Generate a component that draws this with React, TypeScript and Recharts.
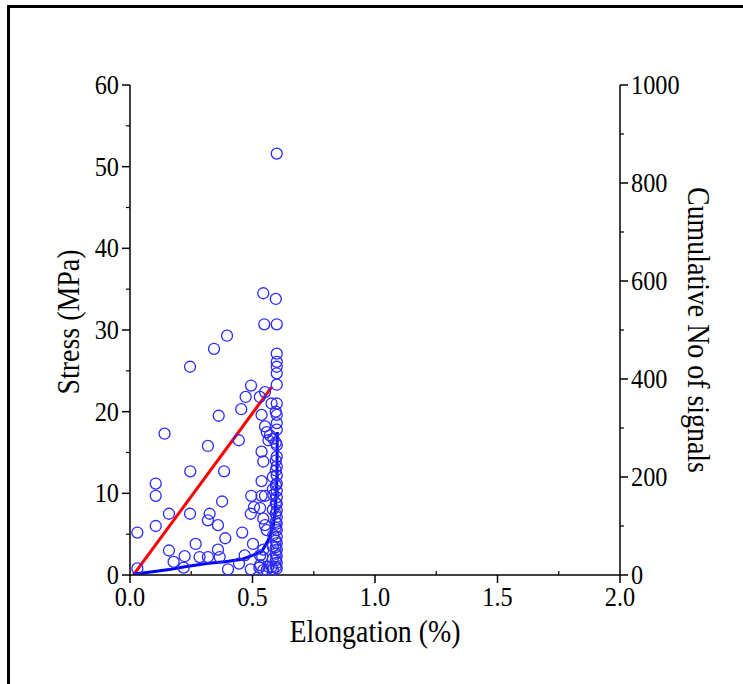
import React from "react";
import { ComposedChart, Label, Line, Scatter, XAxis, YAxis } from "recharts";

// acoustic emission hits: [elongation %, stress MPa]
const spreadHits: [number, number][] = [
  [0.03, 5.2], [0.03, 0.8], [0.105, 11.2], [0.105, 9.7], [0.105, 6.0],
  [0.141, 17.3], [0.159, 7.5], [0.159, 3.0], [0.178, 1.6], [0.219, 0.9],
  [0.223, 2.3], [0.245, 25.5], [0.246, 12.7], [0.245, 7.5], [0.268, 3.8],
  [0.284, 2.2], [0.318, 15.8], [0.318, 6.7], [0.318, 2.2], [0.325, 7.5],
  [0.343, 27.7], [0.359, 6.1], [0.359, 3.1], [0.362, 19.5], [0.366, 2.2],
  [0.376, 9.0], [0.384, 12.7], [0.389, 4.5], [0.396, 29.3], [0.4, 0.7],
  [0.444, 16.5], [0.445, 1.4], [0.454, 20.3], [0.458, 5.2], [0.468, 2.4],
  [0.472, 21.8], [0.493, 7.5], [0.493, 0.7], [0.494, 23.2], [0.495, 9.7],
  [0.502, 3.8], [0.506, 8.3],
];

const nearBreakHits: [number, number][] = [
  [0.531, 8.2], [0.53, 21.8], [0.537, 19.6], [0.537, 11.5], [0.537, 9.7],
  [0.537, 15.1], [0.544, 13.9], [0.544, 6.9], [0.551, 6.1], [0.558, 5.5],
  [0.544, 34.5], [0.548, 30.7], [0.551, 22.4], [0.551, 18.2], [0.558, 17.5],
  [0.565, 16.5], [0.571, 17.1], [0.585, 16.7], [0.578, 21.0], [0.551, 9.7],
  [0.585, 9.8], [0.585, 4.9], [0.544, 3.1], [0.531, 2.4], [0.54, 2.2],
  [0.531, 1.2], [0.528, 0.9], [0.544, 0.6], [0.558, 0.6], [0.565, 1.0],
  [0.578, 1.0],
];

const columnHits: [number, number][] = [
  [0.599, 51.6], [0.599, 30.7], [0.599, 27.1], [0.599, 26.1], [0.599, 25.5],
  [0.599, 24.7], [0.599, 23.3], [0.599, 21.0], [0.599, 19.6], [0.599, 18.6],
  [0.599, 17.8], [0.599, 15.9], [0.599, 14.5], [0.599, 13.3], [0.599, 12.2],
  [0.599, 11.2], [0.599, 10.3], [0.599, 9.5], [0.599, 8.7], [0.599, 7.9],
  [0.599, 7.1], [0.599, 6.3], [0.599, 5.5], [0.599, 4.7], [0.599, 3.9],
  [0.599, 3.1], [0.599, 2.3], [0.599, 1.5], [0.599, 0.8],
  [0.595, 33.8], [0.595, 20.0], [0.595, 16.2], [0.595, 14.0], [0.595, 12.8],
  [0.595, 11.0], [0.595, 8.8], [0.595, 7.5], [0.595, 6.5], [0.595, 5.8],
  [0.595, 4.2], [0.595, 3.4], [0.595, 2.6], [0.595, 1.8], [0.595, 1.0],
  [0.583, 12.0], [0.583, 10.5], [0.583, 8.0], [0.583, 3.5], [0.583, 2.0],
  [0.583, 0.7],
];

// linear stress-elongation fit (red)
const fitElongation = [0.014, 0.578];
const fitStress = [0, 23.0];

// cumulative number of signals (blue, right axis)
const cumElongation = [0.015, 0.02, 0.1, 0.16, 0.224, 0.32, 0.388, 0.456, 0.5, 0.538, 0.564, 0.585, 0.592, 0.6, 0.601];
const cumSignals = [0, 2, 7, 11, 17, 24, 27, 32, 40, 48, 71, 99, 127, 194, 292];

const xTicks = [0, 0.25, 0.5, 0.75, 1, 1.25, 1.5, 1.75, 2];
const stressTicks = [0, 5, 10, 15, 20, 25, 30, 35, 40, 45, 50, 55, 60];
const signalTicks = [0, 100, 200, 300, 400, 500, 600, 700, 800, 900, 1000];

const FONT = "'Liberation Serif', 'Times New Roman', serif";
const TICK_FONT = 27;
const TITLE_FONT = 31;
const SQUEEZE = 0.9; // the original lettering is a bit condensed
const CIRCLE = "#2b2bff";

const hits = [...spreadHits, ...nearBreakHits, ...columnHits].map(([e, s]) => ({ e, s }));
const fitLine = fitElongation.map((e, i) => ({ e, s: fitStress[i] }));
const cumLine = cumElongation.map((e, i) => ({ e, c: cumSignals[i] }));

function isMajor(v: number, step: number) {
  return Math.abs(v / step - Math.round(v / step)) < 1e-6;
}

function SerifText({ x, y, anchor, size, rotate = 0, children }: any) {
  return (
    <text
      transform={`translate(${x} ${y}) rotate(${rotate}) scale(${SQUEEZE} 1)`}
      textAnchor={anchor}
      fontFamily={FONT}
      fontSize={size}
      fill="#000"
    >
      {children}
    </text>
  );
}

function BottomTick(props: any) {
  const { x, y, payload } = props;
  const v = payload.value as number;
  if (!isMajor(v, 0.5)) {
    return <line x1={x} y1={y} x2={x} y2={y - 4} stroke="#000" strokeWidth={1.2} />;
  }
  return (
    <g>
      <line x1={x} y1={y} x2={x} y2={y + 8} stroke="#000" strokeWidth={1.5} />
      <SerifText x={x} y={y + 31} anchor="middle" size={TICK_FONT}>
        {v.toFixed(1)}
      </SerifText>
    </g>
  );
}

function TopTick(props: any) {
  const { x, y } = props;
  return <line x1={x} y1={y} x2={x} y2={y + 4} stroke="#000" strokeWidth={1.2} />;
}

function LeftTick(props: any) {
  const { x, y, payload } = props;
  const v = payload.value as number;
  if (!isMajor(v, 10)) {
    return <line x1={x} y1={y} x2={x - 4} y2={y} stroke="#000" strokeWidth={1.2} />;
  }
  return (
    <g>
      <line x1={x} y1={y} x2={x - 8} y2={y} stroke="#000" strokeWidth={1.5} />
      <SerifText x={x - 11} y={y + 9} anchor="end" size={TICK_FONT}>
        {v}
      </SerifText>
    </g>
  );
}

function RightTick(props: any) {
  const { x, y, payload } = props;
  const v = payload.value as number;
  if (!isMajor(v, 200)) {
    return <line x1={x} y1={y} x2={x + 4} y2={y} stroke="#000" strokeWidth={1.2} />;
  }
  return (
    <g>
      <line x1={x} y1={y} x2={x + 8} y2={y} stroke="#000" strokeWidth={1.5} />
      <SerifText x={x + 11} y={y + 9} anchor="start" size={TICK_FONT}>
        {v}
      </SerifText>
    </g>
  );
}

function HitCircle(props: any) {
  const { cx, cy } = props;
  return <circle cx={cx} cy={cy} r={5.5} fill="none" stroke={CIRCLE} strokeWidth={1.3} />;
}

export default function App() {
  return (
    <div style={{ position: "absolute", left: 0, top: 0, width: 743, height: 684, overflow: "hidden", background: "#fff" }}>
      <div
        style={{
          position: "absolute",
          left: 7,
          top: 5,
          width: 736,
          height: 679,
          borderLeft: "3px solid #000",
          borderTop: "3px solid #000",
          boxSizing: "border-box",
        }}
      />
      <div style={{ position: "absolute", left: 0, top: 0 }}>
        <ComposedChart width={743} height={684} margin={{ top: 85, right: 53, bottom: 69, left: 70 }}>
          <XAxis
            xAxisId="x"
            dataKey="e"
            type="number"
            domain={[0, 2]}
            ticks={xTicks}
            interval={0}
            allowDataOverflow
            height={40}
            tickSize={0}
            tickMargin={0}
            tick={BottomTick}
            tickLine={false}
            axisLine={{ stroke: "#000", strokeWidth: 1.5 }}
          >
            <Label
              content={(p: any) => (
                <SerifText x={p.viewBox.x + p.viewBox.width / 2} y={p.viewBox.y + 67} anchor="middle" size={TITLE_FONT}>
                  Elongation (%)
                </SerifText>
              )}
            />
          </XAxis>
          <XAxis
            xAxisId="top"
            orientation="top"
            type="number"
            domain={[0, 2]}
            ticks={xTicks}
            interval={0}
            allowDataOverflow
            height={0}
            tickSize={0}
            tickMargin={0}
            tick={TopTick}
            tickLine={false}
            axisLine={{ stroke: "#000", strokeWidth: 1.5 }}
          />
          <YAxis
            yAxisId="s"
            dataKey="s"
            type="number"
            domain={[0, 60]}
            ticks={stressTicks}
            interval={0}
            allowDataOverflow
            width={60}
            tickSize={0}
            tickMargin={0}
            tick={LeftTick}
            tickLine={false}
            axisLine={{ stroke: "#000", strokeWidth: 1.5 }}
          >
            <Label
              content={(p: any) => (
                <SerifText x={79} y={p.viewBox.y + p.viewBox.height / 2 - 8} anchor="middle" size={TITLE_FONT} rotate={-90}>
                  Stress (MPa)
                </SerifText>
              )}
            />
          </YAxis>
          <YAxis
            yAxisId="c"
            orientation="right"
            dataKey="c"
            type="number"
            domain={[0, 1000]}
            ticks={signalTicks}
            interval={0}
            allowDataOverflow
            width={70}
            tickSize={0}
            tickMargin={0}
            tick={RightTick}
            tickLine={false}
            axisLine={{ stroke: "#000", strokeWidth: 1.5 }}
          >
            <Label
              content={(p: any) => (
                <SerifText x={688} y={p.viewBox.y + p.viewBox.height / 2} anchor="middle" size={TITLE_FONT} rotate={90}>
                  Cumulative No of signals
                </SerifText>
              )}
            />
          </YAxis>
          <Scatter xAxisId="x" yAxisId="s" data={hits} shape={HitCircle} isAnimationActive={false} />
          <Line
            xAxisId="x"
            yAxisId="s"
            data={fitLine}
            dataKey="s"
            type="linear"
            stroke="#ff0000"
            strokeWidth={3}
            dot={false}
            activeDot={false}
            isAnimationActive={false}
          />
          <Line
            xAxisId="x"
            yAxisId="c"
            data={cumLine}
            dataKey="c"
            type="linear"
            stroke="#0000ff"
            strokeWidth={3}
            dot={false}
            activeDot={false}
            isAnimationActive={false}
          />
        </ComposedChart>
      </div>
    </div>
  );
}
